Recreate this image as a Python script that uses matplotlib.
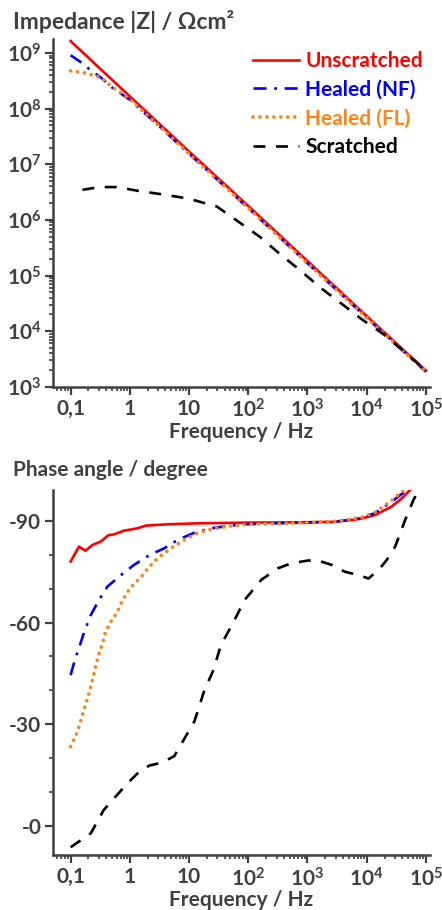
import matplotlib
matplotlib.use("Agg")
import matplotlib.pyplot as plt
import numpy as np
from matplotlib.ticker import FixedLocator, NullFormatter

GRAY = "#404040"
RED = "#ff0000"
BLUE = "#0000ff"
ORANGE = "#ff8418"
BLACK = "#000000"

labels = ["Unscratched", "Healed (NF)", "Healed (FL)", "Scratched"]

# Bode |Z| : log10(frequency / Hz), log10(|Z| / Ohm cm2)
z_red_lf = [-1.0, 0.0, 1.0, 2.0, 3.0, 4.0, 5.0]
z_red_lz = [9.215, 8.22, 7.23, 6.25, 5.26, 4.27, 3.29]
z_blue_lf = [-1.0, -0.82, -0.66, -0.49, -0.3, 0.0, 0.48, 1.0, 2.0, 3.0, 4.0, 5.0]
z_blue_lz = [8.96, 8.83, 8.69, 8.56, 8.38, 8.16, 7.70, 7.19, 6.21, 5.22, 4.24, 3.27]
z_orange_lf = [-1.0, -0.75, -0.49, -0.3, 0.0, 0.48, 1.0, 2.0, 3.0, 4.0, 5.0]
z_orange_lz = [8.68, 8.64, 8.56, 8.39, 8.17, 7.70, 7.19, 6.21, 5.22, 4.24, 3.27]
z_black_lf = [-0.8, -0.52, -0.22, 0.15, 0.61, 1.0, 1.47, 1.83, 2.19, 2.53, 2.88, 3.22,
              3.58, 3.92, 4.29, 4.59, 5.0]
z_black_lz = [6.54, 6.59, 6.59, 6.52, 6.45, 6.38, 6.24, 5.97, 5.70, 5.39, 5.09, 4.78,
              4.49, 4.21, 3.94, 3.67, 3.29]

# phase : log10(frequency / Hz), |phase| / degree
p_red_lf = [-1.0, -0.86, -0.75, -0.63, -0.49, -0.36, -0.27, -0.10, 0.13, 0.27, 0.64, 1.2,
            2.05, 3.0, 3.41, 3.86, 4.14, 4.42, 4.59, 4.73, 4.85]
p_red = [78.0, 82.4, 81.2, 82.9, 83.9, 85.8, 86.0, 87.1, 87.8, 88.6, 89.0, 89.3,
         89.5, 89.6, 89.7, 90.5, 91.7, 94.2, 96.6, 99.1, 102.0]
p_blue_lf = [-1.0, -0.92, -0.86, -0.77, -0.66, -0.52, -0.38, -0.15, 0.07, 0.33, 0.58, 0.81,
             1.09, 1.37, 1.66, 1.93, 2.5, 3.0, 3.5, 3.9, 4.14, 4.42, 4.64, 4.75]
p_blue = [44.5, 49.5, 52.4, 57.3, 62.2, 66.7, 70.6, 74.0, 77.0, 79.9, 81.9, 84.4,
          86.5, 87.8, 88.5, 89.0, 89.3, 89.5, 89.8, 90.8, 92.3, 95.6, 98.6, 101.0]
p_orange_lf = [-1.0, -0.92, -0.86, -0.80, -0.75, -0.69, -0.63, -0.58, -0.52, -0.46, -0.41,
               -0.32, -0.21, -0.12, 0.0, 0.19, 0.33, 0.47, 0.69, 0.92, 1.15, 1.43, 1.71,
               1.99, 2.5, 3.0, 3.5, 3.9, 4.14, 4.42, 4.62, 4.72]
p_orange = [23.4, 26.3, 29.3, 32.7, 35.7, 39.1, 43.1, 47.0, 50.9, 53.9, 57.3,
            60.3, 63.2, 66.7, 70.1, 73.5, 76.5, 79.0, 81.9, 84.4, 86.5, 87.8, 88.5,
            89.0, 89.2, 89.5, 89.9, 91.0, 92.5, 96.0, 99.0, 101.0]
p_black_lf = [-1.0, -0.66, -0.44, -0.04, 0.16, 0.33, 0.55, 0.75, 0.86, 1.09, 1.26, 1.40,
              1.54, 1.74, 1.94, 2.22, 2.50, 2.73, 3.01, 3.18, 3.41, 3.63, 3.86, 4.03,
              4.20, 4.34, 4.48, 4.65, 4.79, 4.88, 4.95]
p_black = [-6.3, -2.2, 4.7, 12.6, 16.0, 17.8, 18.7, 20.6, 23.9, 30.8, 40.1, 45.5,
           53.4, 59.8, 66.7, 72.6, 76.0, 77.5, 78.3, 78.3, 77.0, 75.0, 74.0, 73.0,
           75.5, 78.5, 82.4, 90.3, 96.2, 99.1, 102.0]

freq_ticks = [0.1, 1, 10, 1e2, 1e3, 1e4, 1e5]
freq_ticklabels = ["0,1", "1", "10", r"$\mathbf{10^{2}}$", r"$\mathbf{10^{3}}$",
                   r"$\mathbf{10^{4}}$", r"$\mathbf{10^{5}}$"]
z_ticks = [1e3, 1e4, 1e5, 1e6, 1e7, 1e8, 1e9]
z_ticklabels = [r"$\mathbf{10^{%d}}$" % e for e in range(3, 10)]
phase_ticks = [0, 30, 60, 90]
phase_ticklabels = ["-0", "-30", "-60", "-90"]

FS = 15
plt.rcParams.update({
    "font.family": ["Lato", "DejaVu Sans"],
    "font.weight": "bold",
    "axes.labelweight": "bold",
    "font.size": FS,
    "mathtext.fontset": "custom",
    "mathtext.rm": "Lato:bold",
    "mathtext.bf": "Lato:bold",
    "mathtext.it": "Lato:bold",
    "text.color": GRAY,
    "axes.labelcolor": GRAY,
    "xtick.color": GRAY,
    "ytick.color": GRAY,
    "axes.edgecolor": GRAY,
    "axes.linewidth": 1.8,
    "lines.scale_dashes": False,
})

STYLES = [
    dict(color=RED, lw=1.9, ls="-"),
    dict(color=BLUE, lw=1.9, ls=(0, (9.4, 5.5, 2.0, 5.5)), dash_capstyle="butt"),
    dict(color=ORANGE, lw=2.7, ls=(0, (0.01, 5.0)), dash_capstyle="round"),
    dict(color=BLACK, lw=1.9, ls=(0, (8.6, 7.6))),
]


def minor_log(lo, hi):
    return [m * 10.0 ** e for e in range(lo, hi) for m in range(2, 10)]


def style_axes(ax):
    for s in ("top", "right"):
        ax.spines[s].set_visible(False)
    ax.set_xscale("log")
    ax.set_xlim(10 ** -1.297, 10 ** 5.07)
    ax.xaxis.set_major_locator(FixedLocator(freq_ticks))
    ax.xaxis.set_minor_locator(FixedLocator(minor_log(-2, 5)))
    ax.set_xticklabels(freq_ticklabels)
    ax.xaxis.set_minor_formatter(NullFormatter())
    ax.tick_params(which="major", direction="out", length=5.5, width=1.6, pad=3,
                   labelsize=FS)
    ax.tick_params(which="minor", direction="out", length=3.0, width=1.2)
    ax.set_xlabel("Frequency / Hz", labelpad=0, fontsize=FS)


fig = plt.figure(figsize=(4.42, 9.10), dpi=100)
ax1 = fig.add_axes([0.120, 0.575, 0.853, 0.382])
ax2 = fig.add_axes([0.120, 0.0604, 0.853, 0.4011])

# impedance
z_sets = [(z_red_lf, z_red_lz), (z_blue_lf, z_blue_lz), (z_orange_lf, z_orange_lz),
          (z_black_lf, z_black_lz)]
for (lf, lz), st, lab in zip(z_sets, STYLES, labels):
    ax1.plot(10 ** np.array(lf), 10 ** np.array(lz), label=lab, **st)
style_axes(ax1)
ax1.set_yscale("log")
ax1.set_ylim(1e3, 10 ** 9.25)
ax1.yaxis.set_major_locator(FixedLocator(z_ticks))
ax1.set_yticklabels(z_ticklabels)
ax1.yaxis.set_minor_locator(FixedLocator([v for v in minor_log(3, 10) if v < 10 ** 9.25]))
ax1.yaxis.set_minor_formatter(NullFormatter())
leg = ax1.legend(loc="upper right", bbox_to_anchor=(1.03, 1.02), frameon=False,
                 handlelength=2.2, handletextpad=0.3, labelspacing=0.42,
                 labelcolor="linecolor", prop=dict(size=FS, weight="bold"))
fig.text(0.030, 0.976, "Impedance |Z| / Ωcm²", ha="left", va="center", fontsize=16.5)

# phase
p_sets = [(p_red_lf, p_red), (p_blue_lf, p_blue), (p_orange_lf, p_orange),
          (p_black_lf, p_black)]
for (lf, pv), st in zip(p_sets, STYLES):
    ax2.plot(10 ** np.array(lf), pv, **st)
style_axes(ax2)
ax2.set_ylim(-8.6, 99.1)
ax2.yaxis.set_major_locator(FixedLocator(phase_ticks))
ax2.set_yticklabels(phase_ticklabels)
ax2.yaxis.set_minor_locator(FixedLocator([10, 20, 40, 50, 70, 80]))
fig.text(0.030, 0.4835, "Phase angle / degree", ha="left", va="center", fontsize=FS)

fig.savefig("out.png", dpi=100)
